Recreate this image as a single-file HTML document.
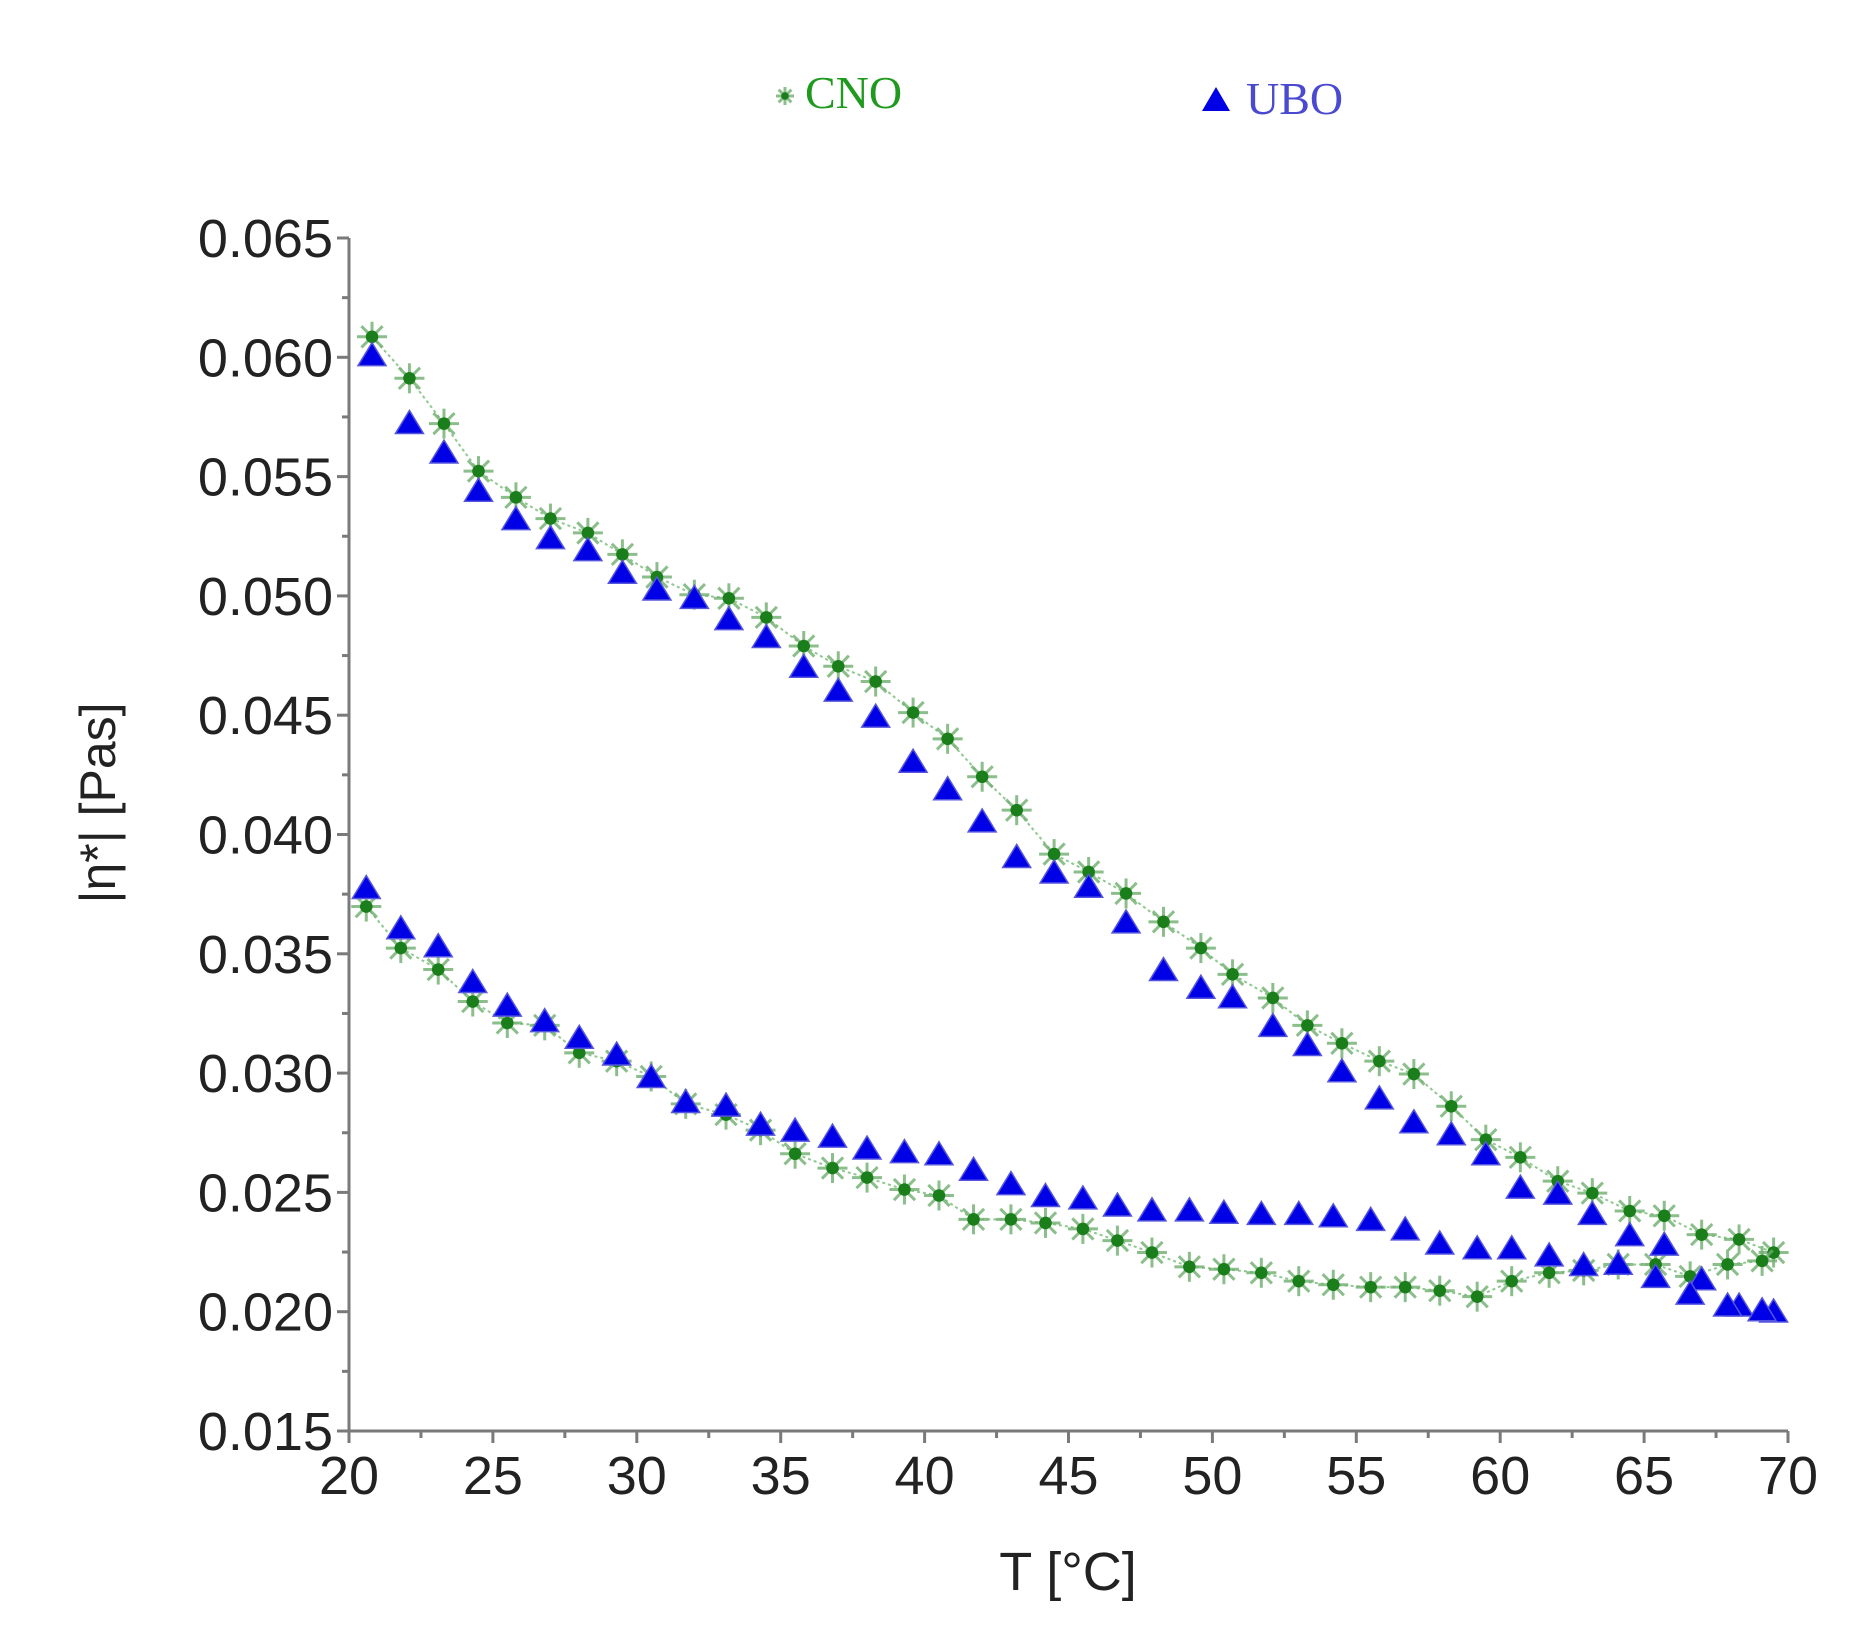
<!DOCTYPE html>
<html><head><meta charset="utf-8"><style>
html,body{margin:0;padding:0;background:#fff;}
svg{display:block;}
</style></head><body>
<svg id="chart" width="1864" height="1634" viewBox="0 0 1864 1634" xmlns="http://www.w3.org/2000/svg">
<g id="legend">
 <g>
  <g id="legStar"></g>
  <text x="805" y="108" font-family="Liberation Serif, serif" font-size="46" fill="#1f9a1f">CNO</text>
 </g>
 <g>
  <polygon points="1216,87 1230,111 1202,111" fill="#0000e6"/>
  <text x="1246" y="114" font-family="Liberation Serif, serif" font-size="46" fill="#4a4ad0">UBO</text>
 </g>
</g>
<g id="axes"></g>
<g id="series"></g>
<text x="1068" y="1590" text-anchor="middle" font-family="Liberation Sans, sans-serif" font-size="54" fill="#222">T [°C]</text>
<text transform="translate(115,803) rotate(-90)" text-anchor="middle" font-family="Liberation Sans, sans-serif" font-size="50" fill="#222">|η*| [Pas]</text>
</svg>
<script>
const xTicks = [20,25,30,35,40,45,50,55,60,65,70];
const yTicks = [0.015,0.020,0.025,0.030,0.035,0.040,0.045,0.050,0.055,0.060,0.065];
const yTickLabels = ["0.015","0.020","0.025","0.030","0.035","0.040","0.045","0.050","0.055","0.060","0.065"];
const upperT = [20.8,22.1,23.3,24.5,25.8,27.0,28.3,29.5,30.7,32.0,33.2,34.5,35.8,37.0,38.3,39.6,40.8,42.0,43.2,44.5,45.7,47.0,48.3,49.6,50.7,52.1,53.3,54.5,55.8,57.0,58.3,59.5,60.7,62.0,63.2,64.5,65.7,67.0,68.3,69.5];
const cnoUpper = [0.06086,0.05912,0.05722,0.05523,0.05413,0.05324,0.05264,0.05174,0.05079,0.05005,0.04990,0.04910,0.04790,0.04705,0.04641,0.04511,0.04401,0.04242,0.04102,0.03918,0.03843,0.03753,0.03634,0.03524,0.03414,0.03315,0.03200,0.03125,0.03050,0.02996,0.02861,0.02721,0.02647,0.02547,0.02497,0.02422,0.02402,0.02323,0.02303,0.02248];
const uboUpper = [0.06011,0.05727,0.05603,0.05443,0.05324,0.05244,0.05194,0.05099,0.05029,0.04994,0.04905,0.04830,0.04705,0.04605,0.04496,0.04307,0.04192,0.04057,0.03908,0.03843,0.03783,0.03634,0.03434,0.03360,0.03320,0.03200,0.03120,0.03010,0.02896,0.02796,0.02746,0.02662,0.02522,0.02497,0.02412,0.02323,0.02283,0.02138,0.02028,0.02003];
const lowerT = [20.6,21.8,23.1,24.3,25.5,26.8,28.0,29.3,30.5,31.7,33.1,34.3,35.5,36.8,38.0,39.3,40.5,41.7,43.0,44.2,45.5,46.7,47.9,49.2,50.4,51.7,53.0,54.2,55.5,56.7,57.9,59.2,60.4,61.7,62.9,64.1,65.4,66.6,67.9,69.1];
const cnoLower = [0.03698,0.03524,0.03434,0.03300,0.03210,0.03200,0.03085,0.03050,0.02986,0.02871,0.02826,0.02761,0.02662,0.02602,0.02562,0.02512,0.02487,0.02387,0.02387,0.02372,0.02347,0.02298,0.02248,0.02188,0.02178,0.02163,0.02128,0.02113,0.02103,0.02103,0.02088,0.02063,0.02128,0.02163,0.02173,0.02198,0.02198,0.02148,0.02198,0.02213];
const uboLower = [0.03778,0.03609,0.03534,0.03384,0.03285,0.03220,0.03150,0.03080,0.02986,0.02881,0.02866,0.02786,0.02761,0.02736,0.02686,0.02671,0.02662,0.02597,0.02537,0.02487,0.02477,0.02447,0.02427,0.02427,0.02417,0.02412,0.02412,0.02402,0.02387,0.02347,0.02288,0.02268,0.02268,0.02238,0.02198,0.02203,0.02148,0.02078,0.02028,0.02008];

const NS = "http://www.w3.org/2000/svg";
const X0 = 349, X1 = 1788, Y0 = 1431, Y1 = 238;
function xs(t){ return X0 + (t-20)/(70-20)*(X1-X0); }
function ys(v){ return Y0 - (v-0.015)/(0.065-0.015)*(Y0-Y1); }
function mk(tag, attrs, parent){ const e=document.createElementNS(NS,tag); for(const k in attrs) e.setAttribute(k,attrs[k]); parent.appendChild(e); return e; }

const axes = document.getElementById('axes');
const axc = "#7a7a7a";
let yAxis = mk('line',{x1:X0,y1:Y1,x2:X0,y2:Y0,stroke:axc,'stroke-width':3},axes);


let xAxis = mk('line',{x1:X0-10,y1:Y0,x2:X1,y2:Y0,stroke:axc,'stroke-width':3},axes);



xTicks.forEach((t,i)=>{
  const x=xs(t);
  let tk=mk('line',{x1:x,y1:Y0,x2:x,y2:Y0+12,stroke:axc,'stroke-width':3},axes);
  
  
  if(i<xTicks.length-1){
    let mt=mk('line',{x1:xs(t+2.5),y1:Y0,x2:xs(t+2.5),y2:Y0+7,stroke:axc,'stroke-width':3},axes);
    
    
  }
  let lb=mk('text',{x:x,y:1494,'text-anchor':'middle','font-family':'Liberation Sans, sans-serif','font-size':54,fill:'#222'},axes);
  lb.textContent=String(t);
  
  
});
yTicks.forEach((v,i)=>{
  const y=ys(v);
  let tk=mk('line',{x1:X0-12,y1:y,x2:X0,y2:y,stroke:axc,'stroke-width':3},axes);
  
  
  if(i<yTicks.length-1){
    let mt=mk('line',{x1:X0-7,y1:ys(v+0.0025),x2:X0,y2:ys(v+0.0025),stroke:axc,'stroke-width':3},axes);
    
    
  }
  let lb=mk('text',{x:333,y:y+19,'text-anchor':'end','font-family':'Liberation Sans, sans-serif','font-size':54,fill:'#222'},axes);
  lb.textContent=yTickLabels[i];
  
  
});

const ser = document.getElementById('series');
function star(cx,cy,parent,r){
  const g=mk('g',{},parent);
  for(let a=0;a<4;a++){
    const ang=a*Math.PI/4, dx=Math.cos(ang)*r, dy=Math.sin(ang)*r;
    mk('line',{x1:cx-dx,y1:cy-dy,x2:cx+dx,y2:cy+dy,stroke:'#6fae6f','stroke-width':3,'stroke-opacity':0.8},g);
  }
  mk('circle',{cx:cx,cy:cy,r:r*0.42,fill:'#1a7f1a'},g);
  return g;
}
function tri(cx,cy,parent){
  return mk('polygon',{points:`${cx},${cy-12} ${cx+14},${cy+11} ${cx-14},${cy+11}`,fill:'#0000e6',stroke:'#5555dd','stroke-width':1.5},parent);
}
function drawCNO(T,V,name){
  const g=mk('g',{},ser);
  
  
  const pts=T.map((t,i)=>xs(t)+','+ys(V[i])).join(' ');
  let pl=mk('polyline',{points:pts,fill:'none',stroke:'#8fc98f','stroke-width':2,'stroke-dasharray':'3 3'},g);
  
  
  T.forEach((t,i)=>{
    const s=star(xs(t),ys(V[i]),g,15);
    
    
  });
}
function drawUBO(T,V,name){
  const g=mk('g',{},ser);
  
  
  T.forEach((t,i)=>{
    const p=tri(xs(t),ys(V[i]),g);
    
    
  });
}
drawCNO(upperT,cnoUpper,'cno-upper-series');
drawCNO(lowerT,cnoLower,'cno-lower-series');
drawUBO(upperT,uboUpper,'ubo-upper-series');
drawUBO(lowerT,uboLower,'ubo-lower-series');
star(785,96,document.getElementById('legStar'),9);
</script>
</body></html>
